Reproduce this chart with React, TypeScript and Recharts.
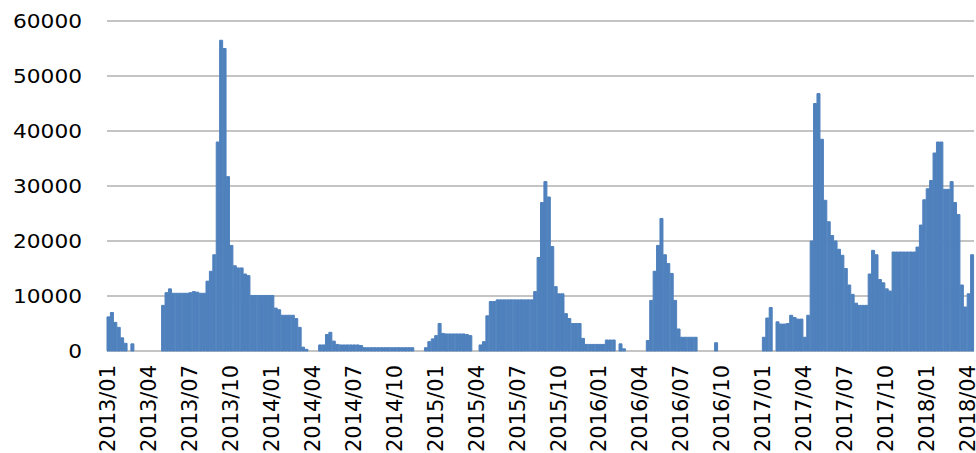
import React from 'react';
import { BarChart, Bar, XAxis, YAxis, CartesianGrid } from 'recharts';

// Four roughly-weekly readings per month.
const v2013 = [
  6200, 7000, 5200, 4300,
  2400, 1400, 0, 1300,
  0, 0, 0, 0,
  0, 0, 0, 0,
  8300, 10600, 11300, 10500,
  10500, 10500, 10500, 10500,
  10600, 10800, 10700, 10500,
  10500, 12700, 14500, 17500,
  38000, 56500, 55000, 31700,
  19200, 15500, 15100, 15100,
  14000, 13700, 10100, 10100,
  10100, 10100, 10100, 10100,
];
const v2014 = [
  10100, 7800, 7500, 6500,
  6500, 6500, 6500, 5900,
  4300, 700, 300, 0,
  0, 0, 1100, 1100,
  3000, 3400, 1800, 1200,
  1100, 1100, 1100, 1100,
  1100, 1100, 1000, 600,
  600, 600, 600, 600,
  600, 600, 600, 600,
  600, 600, 600, 600,
  600, 600, 0, 0,
  0, 600, 1700, 2200,
];
const v2015 = [
  2800, 5000, 3200, 3100,
  3100, 3100, 3100, 3100,
  3100, 3000, 2800, 0,
  0, 1100, 1700, 6400,
  9000, 9000, 9300, 9300,
  9300, 9300, 9300, 9300,
  9300, 9300, 9300, 9300,
  9300, 10800, 17000, 27000,
  30800, 28000, 19000, 11700,
  10400, 10400, 6800, 5900,
  5000, 5000, 5000, 2300,
  1200, 1200, 1200, 1200,
];
const v2016 = [
  1200, 1200, 2000, 2000,
  2000, 0, 1300, 400,
  0, 0, 0, 0,
  0, 0, 1900, 9200,
  14500, 19200, 24100, 17500,
  15900, 14100, 9200, 4000,
  2500, 2500, 2500, 2500,
  2500, 0, 0, 0,
  0, 0, 1500, 0,
  0, 0, 0, 0,
  0, 0, 0, 0,
  0, 0, 0, 0,
];
const v2017 = [
  2500, 6000, 7900, 0,
  5300, 4900, 4900, 5000,
  6500, 6100, 5800, 5800,
  2500, 6500, 20000, 45000,
  46800, 38500, 27400, 23500,
  21000, 20000, 18500, 17400,
  15000, 12000, 10300, 8700,
  8300, 8300, 8300, 14000,
  18300, 17500, 13000, 12400,
  11300, 10900, 18000, 18000,
  18000, 18000, 18000, 18000,
  18000, 18900, 22900, 27500,
];
const v2018 = [
  29500, 31000, 36000, 38000,
  38000, 29400, 29400, 30800,
  27000, 24800, 12000, 8000,
  10400, 17500,
];

const years = [2013, 2014, 2015, 2016, 2017, 2018];
const yearValues = [v2013, v2014, v2015, v2016, v2017, v2018];
const months = ['01', '02', '03', '04', '05', '06', '07', '08', '09', '10', '11', '12'];
const labelMonths = ['01', '04', '07', '10'];
const yTicks = [0, 10000, 20000, 30000, 40000, 50000, 60000];

const data: { key: string; value: number }[] = [];
years.forEach((yr, i) => {
  const vals = yearValues[i];
  vals.forEach((v, k) => {
    const mm = months[Math.floor(k / 4)];
    data.push({ key: `${yr}/${mm}#${k % 4}`, value: v });
  });
});
const xTicks = data
  .filter((d) => d.key.endsWith('#0') && labelMonths.includes(d.key.slice(5, 7)))
  .map((d) => d.key);

const FONT = '"DejaVu Sans", sans-serif';

const XTick = (props: any) => {
  const { x, y, payload } = props;
  const label = String(payload.value).split('#')[0];
  return (
    <text
      transform={`translate(${x - 1.5},${y}) rotate(-90)`}
      textAnchor="end"
      dy="0.36em"
      fontFamily={FONT}
      fontSize={21.5}
      textLength={87}
      lengthAdjust="spacingAndGlyphs"
      fill="#000"
    >
      {label}
    </text>
  );
};

const YTick = (props: any) => {
  const { x, y, payload } = props;
  const s = String(payload.value);
  return (
    <text
      transform={`translate(${x},${y})`}
      textAnchor="end"
      dy="0.36em"
      fontFamily={FONT}
      fontSize={19.6}
      textLength={s.length * 13.8}
      lengthAdjust="spacingAndGlyphs"
      fill="#000"
    >
      {s}
    </text>
  );
};

export default function App() {
  return (
    <div style={{ position: 'absolute', left: 0, top: 0, width: 976, height: 453, background: '#fff' }}>
      <BarChart
        width={976}
        height={453}
        data={data}
        margin={{ top: 21, right: 2, bottom: 0, left: 0 }}
        barCategoryGap={0}
        barGap={0}
      >
        <CartesianGrid vertical={false} stroke="#8a8a8a" strokeWidth={1.2} />
        <XAxis
          dataKey="key"
          ticks={xTicks}
          interval={0}
          height={102}
          tickLine={false}
          axisLine={false}
          tickSize={14}
          tickMargin={0}
          tick={<XTick />}
        />
        <YAxis
          width={107}
          domain={[0, 60000]}
          ticks={yTicks}
          interval={0}
          tickLine={false}
          axisLine={false}
          tickSize={25}
          tickMargin={0}
          tick={<YTick />}
        />
        <Bar dataKey="value" fill="#4f81bd" stroke="#4f81bd" strokeWidth={1} isAnimationActive={false} />
      </BarChart>
    </div>
  );
}
